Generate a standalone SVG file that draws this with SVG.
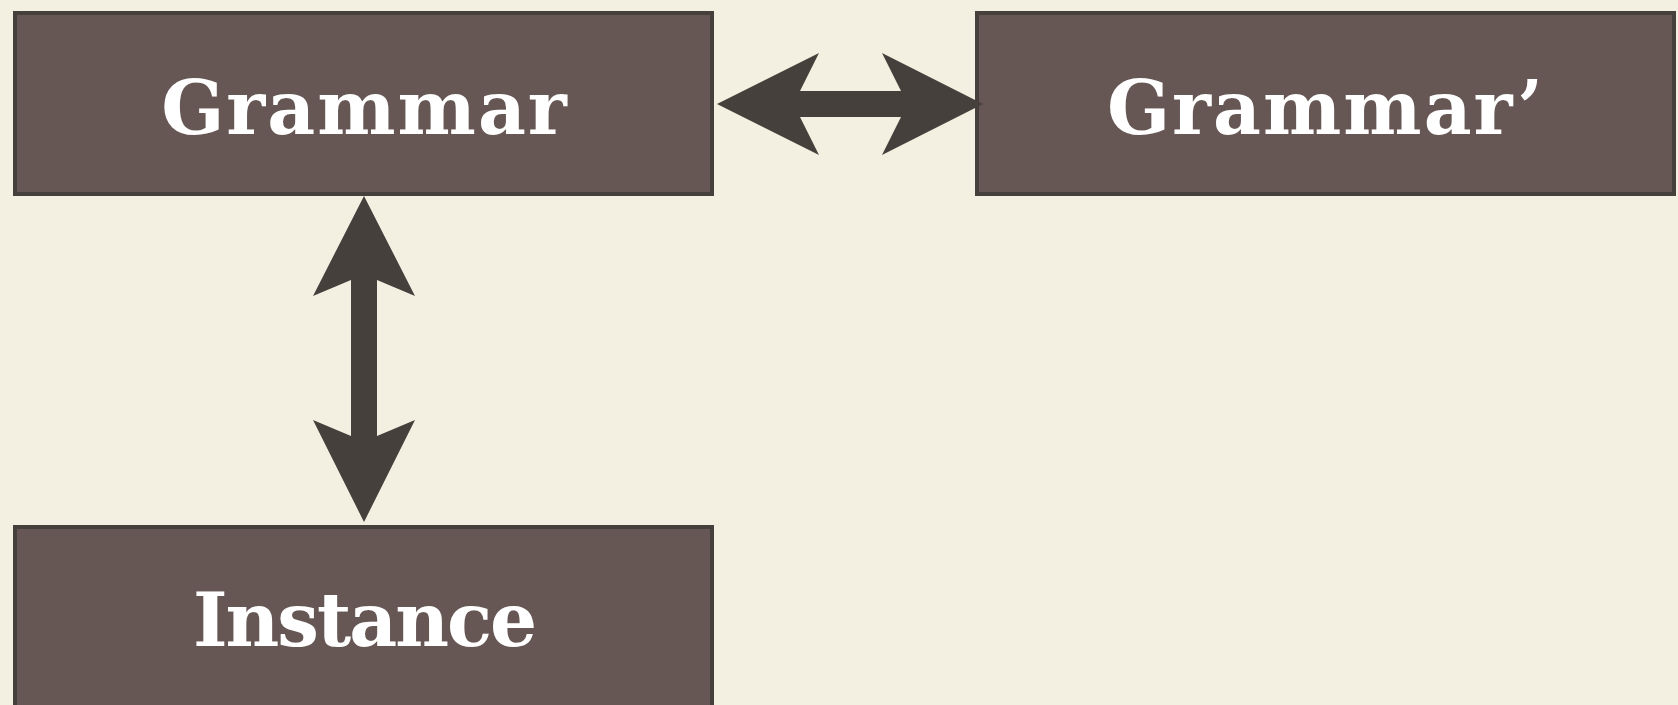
<svg xmlns="http://www.w3.org/2000/svg" width="1678" height="705" viewBox="0 0 1678 705">
  <style>
    .box { fill: #665755; stroke: #46403d; stroke-width: 4; }
    .label { font-family: "DejaVu Serif", "Liberation Serif", serif; font-weight: bold; font-size: 74px; fill: #ffffff; text-anchor: middle; letter-spacing: 2px; }
    .tight { letter-spacing: -2px; }
    .arrow { fill: #46403d; }
  </style>
  <rect width="1678" height="705" fill="#f3efe1"/>

  <g id="grammar">
    <rect class="box" x="15" y="13" width="697" height="181"/>
    <text class="label" x="365" y="134">Grammar</text>
  </g>

  <g id="grammar-prime">
    <rect class="box" x="977" y="13" width="697" height="181"/>
    <text class="label" x="1326" y="134">Grammar’</text>
  </g>

  <g id="instance">
    <rect class="box" x="15" y="527" width="697" height="190"/>
    <text class="label tight" x="364" y="646">Instance</text>
  </g>

  <g id="connectors">
    <!-- Grammar <-> Grammar' -->
    <polygon class="arrow" points="717,104 819,53 800,91 901,91 882,53 983,104 882,155 901,117 800,117 819,155"/>
    <!-- Grammar <-> Instance -->
    <polygon class="arrow" points="364,196 415,296 377,280 377,436 415,420 364,522 313,420 351,436 351,280 313,296"/>
  </g>
</svg>
